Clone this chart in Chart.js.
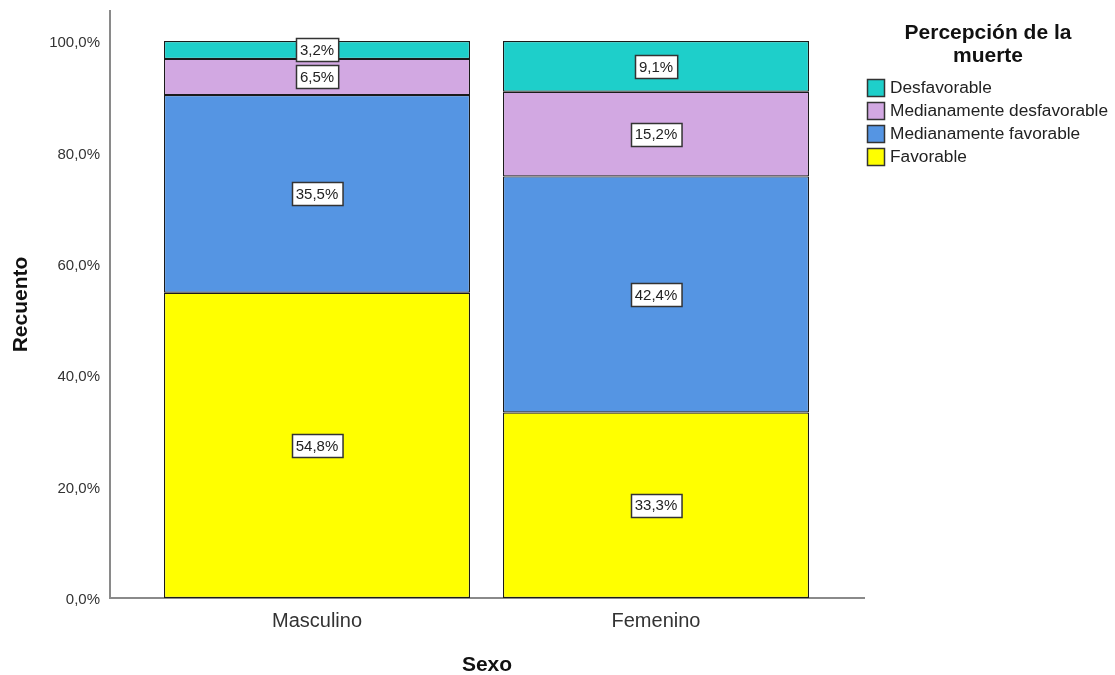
<!DOCTYPE html>
<html>
<head>
<meta charset="utf-8">
<script src="https://cdn.jsdelivr.net/npm/chart.js@4.4.1/dist/chart.umd.min.js"></script>
<style>
  html, body { margin: 0; padding: 0; background: #fff; }
  #wrap { width: 1115px; height: 675px; position: relative; }
</style>
</head>
<body>
<div id="wrap"><canvas id="c"></canvas></div>
<script>
// Percentages by sex, one array per perception level (bottom to top of the stack)
const categories = ['Masculino', 'Femenino'];
const seriesNames = ['Favorable', 'Medianamente favorable', 'Medianamente desfavorable', 'Desfavorable'];
const favorable = [54.8, 33.3];
const medFavorable = [35.5, 42.4];
const medDesfavorable = [6.5, 15.2];
const desfavorable = [3.2, 9.1];
const yTicks = [0, 20, 40, 60, 80, 100];
const legendTitle = ['Percepción de la', 'muerte'];

const seriesValues = [favorable, medFavorable, medDesfavorable, desfavorable];
const seriesColors = ['#ffff00', '#5595e3', '#d2a8e2', '#1ecfca'];

const FONT = "'Liberation Sans', Arial, sans-serif";
const fmtPct = v => v.toFixed(1).replace('.', ',') + '%';

const datasets = seriesNames.map((name, s) => ({
  label: name,
  data: seriesValues[s].map((v, i) => ({ x: i + 1, y: v })),
  backgroundColor: seriesColors[s],
  borderColor: '#1a1a1a',
  borderWidth: 1.2,
  borderSkipped: false,
  categoryPercentage: 1,
  barPercentage: 0.9027
}));

// White value boxes centred on each segment
const valueLabels = {
  id: 'valueLabels',
  afterDatasetsDraw(chart) {
    const ctx = chart.ctx;
    ctx.save();
    ctx.font = '15px ' + FONT;
    ctx.textAlign = 'center';
    ctx.textBaseline = 'middle';
    chart.data.datasets.forEach((ds, di) => {
      const meta = chart.getDatasetMeta(di);
      meta.data.forEach((bar, i) => {
        const txt = fmtPct(ds.data[i].y);
        const cy = (bar.y + bar.base) / 2;
        const w = ctx.measureText(txt).width + 8;
        const h = 23;
        const bx = Math.round(bar.x - w / 2) + 0.5;
        const by = Math.round(cy - h / 2) + 0.5;
        ctx.fillStyle = '#ffffff';
        ctx.fillRect(bx, by, w, h);
        ctx.strokeStyle = '#333333';
        ctx.lineWidth = 1.5;
        ctx.strokeRect(bx, by, w, h);
        ctx.fillStyle = '#222222';
        ctx.fillText(txt, bar.x, cy + 1);
      });
    });
    ctx.restore();
  }
};

// Legend block on the right, top level first
const sideLegend = {
  id: 'sideLegend',
  afterDraw(chart) {
    const ctx = chart.ctx;
    ctx.save();
    ctx.fillStyle = '#111111';
    ctx.font = 'bold 21px ' + FONT;
    ctx.textAlign = 'center';
    ctx.textBaseline = 'middle';
    legendTitle.forEach((line, k) => ctx.fillText(line, 988, 33 + k * 23));
    ctx.font = '17.3px ' + FONT;
    ctx.textAlign = 'left';
    const order = chart.data.datasets.map((_, i) => i).reverse();
    order.forEach((di, k) => {
      const ds = chart.data.datasets[di];
      const cy = 87 + k * 23.2;
      ctx.fillStyle = ds.backgroundColor;
      ctx.fillRect(867.5, Math.round(cy - 8.5) + 0.5, 17, 17);
      ctx.strokeStyle = '#333333';
      ctx.lineWidth = 1.5;
      ctx.strokeRect(867.5, Math.round(cy - 8.5) + 0.5, 17, 17);
      ctx.fillStyle = '#222222';
      ctx.fillText(ds.label, 890, cy + 1);
    });
    ctx.restore();
  }
};

new Chart(document.getElementById('c'), {
  type: 'bar',
  data: { datasets },
  options: {
    responsive: true,
    maintainAspectRatio: false,
    animation: false,
    layout: { padding: { left: 0, right: 251, top: 8, bottom: 0 } },
    plugins: { legend: { display: false }, tooltip: { enabled: false } },
    scales: {
      x: {
        type: 'linear',
        stacked: true,
        offset: false,
        grace: 0,
        bounds: 'data',
        min: 0.3894,
        max: 2.6136,
        grid: { display: false, offset: false },
        border: { display: true, color: '#8a8a8a', width: 2 },
        afterBuildTicks: scale => { scale.ticks = categories.map((_, i) => ({ value: i + 1 })); },
        afterFit: scale => { scale.height = 77; },
        ticks: {
          callback: v => categories[v - 1] || '',
          font: { family: FONT, size: 20 },
          color: '#333333',
          padding: 3,
          maxRotation: 0,
          autoSkip: false
        },
        title: {
          display: true,
          text: 'Sexo',
          font: { family: FONT, size: 21, weight: 'bold' },
          color: '#111111',
          padding: { top: 0, bottom: -3 }
        }
      },
      y: {
        stacked: true,
        min: 0,
        max: 105.4,
        grid: { display: false },
        border: { display: true, color: '#8a8a8a', width: 2 },
        afterBuildTicks: scale => { scale.ticks = yTicks.map(v => ({ value: v })); },
        afterFit: scale => { scale.width = 110; },
        ticks: {
          callback: v => fmtPct(v),
          font: { family: FONT, size: 15 },
          color: '#333333',
          padding: 2,
          labelOffset: 2
        },
        title: {
          display: true,
          text: 'Recuento',
          font: { family: FONT, size: 21, weight: 'bold' },
          color: '#111111',
          padding: { top: 9, bottom: 0 }
        }
      }
    }
  },
  plugins: [valueLabels, sideLegend]
});
</script>
</body>
</html>
